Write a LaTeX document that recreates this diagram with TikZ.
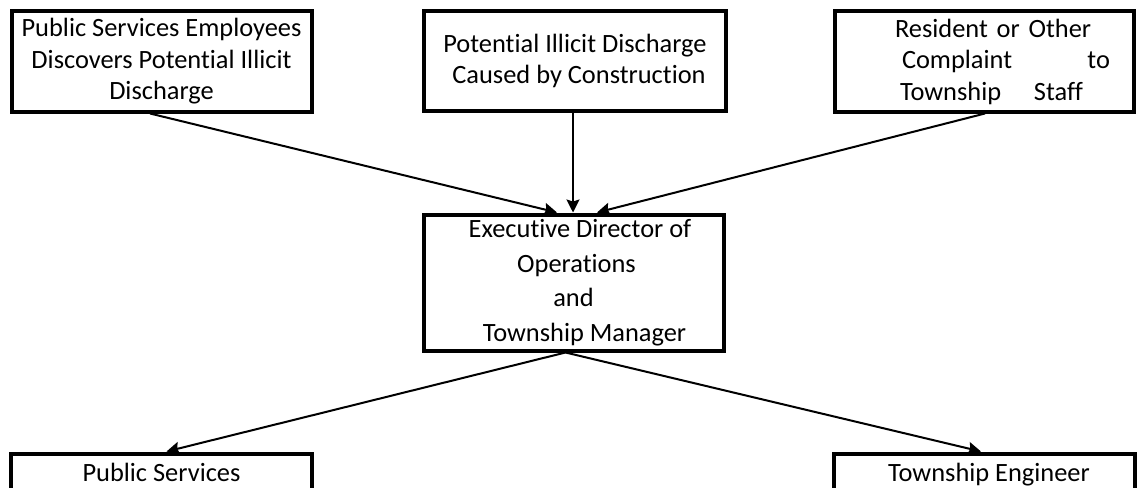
\documentclass[tikz,border=0pt]{standalone}
\usepackage{fontspec}
\setmainfont{Carlito}[Ligatures=NoCommon]
\usetikzlibrary{arrows.meta}

\begin{document}
\begin{tikzpicture}[
    x=1pt,
    y=-1pt,
    source box/.style={
        draw=black,
        line width=4pt,
        minimum width=300pt,
        minimum height=100pt,
        inner sep=0pt,
        align=center,
        font=\fontsize{26.4}{31.5}\selectfont
    },
    manager box/.style={
        draw=black,
        line width=4pt,
        minimum width=300pt,
        minimum height=136pt,
        inner sep=0pt,
        align=center,
        font=\fontsize{26.4}{34.5}\selectfont
    },
    target box/.style={
        draw=black,
        line width=4pt,
        minimum width=301pt,
        minimum height=43pt,
        inner sep=0pt,
        text height=18pt,
        text depth=6pt,
        font=\fontsize{26.4}{31.5}\selectfont
    },
    connection/.style={
        -{Stealth[length=13pt,width=13pt,inset=2pt]},
        black,
        line width=2pt
    }
]

\useasboundingbox (0,0) rectangle (1139,487);
\clip (0,0) rectangle (1139,487);

%% --- Sources (3 boîtes) ---
\node[source box] (S1) at (161.5, 61.5) {Public Services Employees\\Discovers Potential Illicit\\Discharge};
\node[source box, minimum width=302pt, minimum height=99pt] (S2) at (575, 61)
    {Potential Illicit Discharge\\\hspace*{8pt}Caused by Construction};
\node[source box, minimum width=299pt, text width=252pt, align=left] (S3) at (984, 61.5)
    {\hspace*{37pt}Resident or Other\\
     \hspace*{44pt}\makebox[208pt][l]{Complaint\hfill to}\\
     \hspace*{42pt}\makebox[183pt][l]{Township\hfill Staff}};

%% --- Direction ---
\node[manager box] (M) at (573.5, 282.5)
    {\hspace*{13pt}Executive Director of\\\hspace*{6pt}Operations\\and\\\hspace*{22pt}Township Manager};

%% --- Destinataires (2 boîtes) ---
\node[target box] (T1) at (161.5, 475) {Public Services};
\node[target box] (T2) at (984.5, 475) {\hspace*{9pt}Township Engineer};

%% --- Connexions sources -> direction ---
\foreach \src/\sx/\dx in {1/-11.5/-16.5, 2/-2/-0.5, 3/1/23.5} {
    \draw[connection] ([xshift=\sx pt]S\src.south) -- ([xshift=\dx pt]M.north);
}

%% --- Connexions direction -> destinataires ---
\foreach \dst/\dx in {1/5, 2/-3.5} {
    \draw[connection] ([xshift=-8pt]M.south) -- ([xshift=\dx pt]T\dst.north);
}

\end{tikzpicture}
\end{document}
